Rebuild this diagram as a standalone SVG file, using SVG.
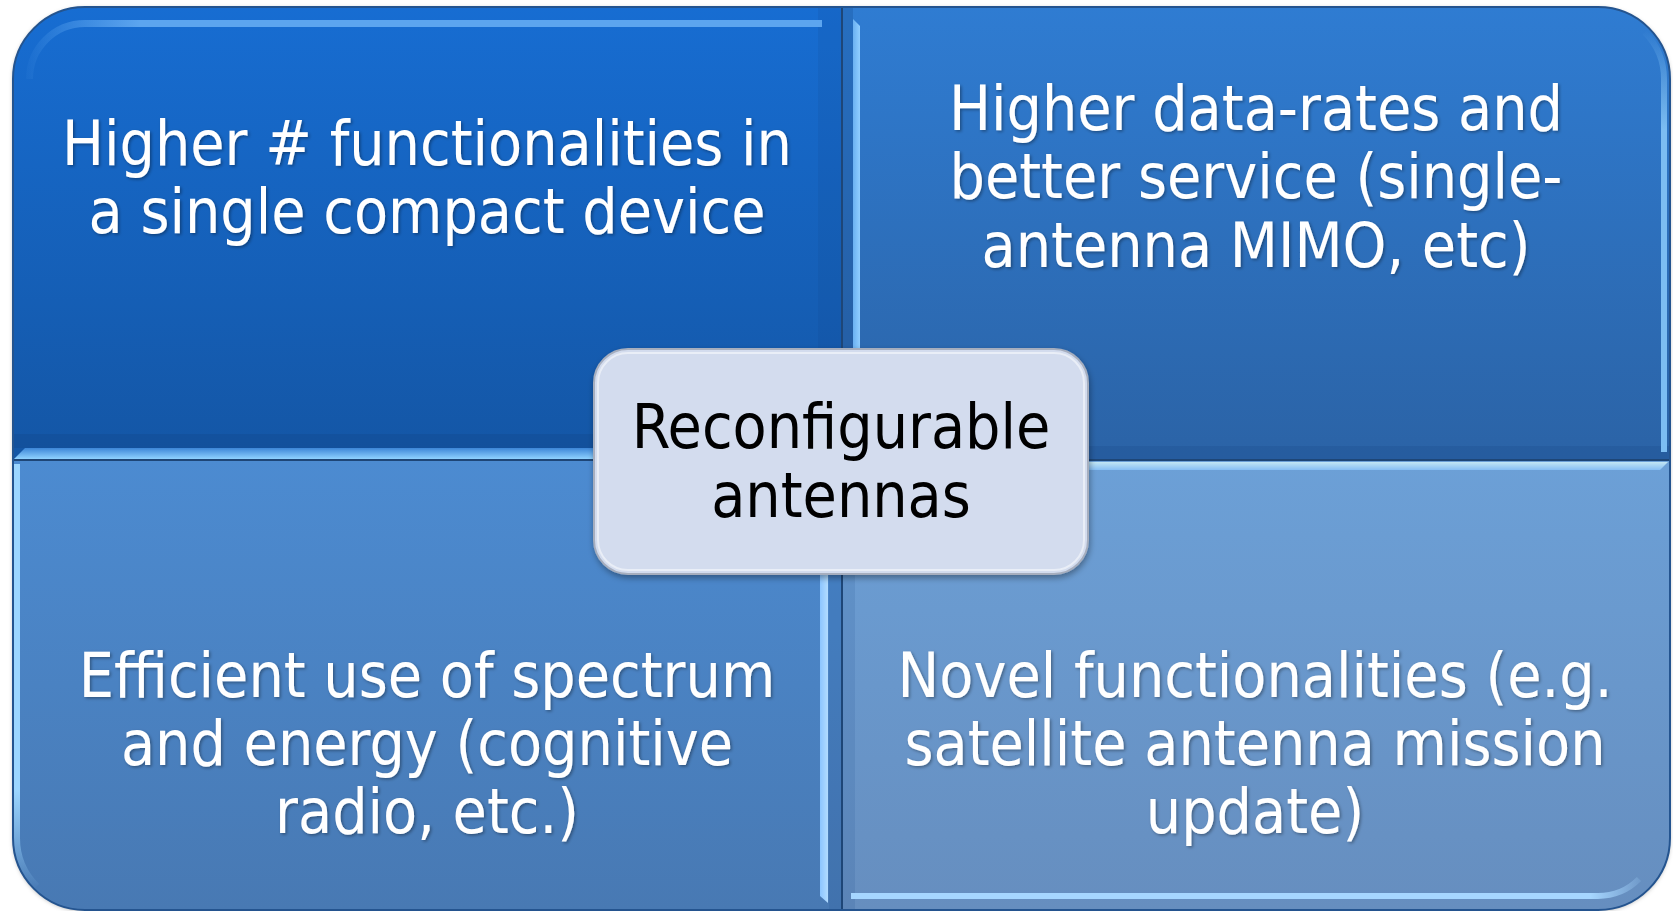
<svg xmlns="http://www.w3.org/2000/svg" width="1673" height="911" viewBox="0 0 1673 911">
  <defs>
    <style>
      .lbl { font-family: "DejaVu Sans Condensed", "DejaVu Sans", sans-serif; font-stretch: condensed; font-size: 62px; text-anchor: middle; }
      .white { fill: #ffffff; filter: url(#txtShadow); }
      .dark { fill: #000000; }
      .divider { stroke: #1E4677; stroke-width: 2; fill: none; }
    </style>
    <!-- quadrant fills -->
    <linearGradient id="gTL" x1="0" y1="0" x2="0" y2="1">
      <stop offset="0" stop-color="#176DD2"/>
      <stop offset="1" stop-color="#1456A5"/>
    </linearGradient>
    <linearGradient id="gTR" x1="0" y1="0" x2="0" y2="1">
      <stop offset="0" stop-color="#2F7CD2"/>
      <stop offset="1" stop-color="#2B63A6"/>
    </linearGradient>
    <linearGradient id="gBL" x1="0" y1="0" x2="0" y2="1">
      <stop offset="0" stop-color="#4C8BD1"/>
      <stop offset="1" stop-color="#4879B3"/>
    </linearGradient>
    <linearGradient id="gBR" x1="0" y1="0" x2="0" y2="1">
      <stop offset="0" stop-color="#6CA0D7"/>
      <stop offset="1" stop-color="#668EBF"/>
    </linearGradient>
    <!-- bevel highlight strips -->
    <linearGradient id="hTLtop" gradientUnits="userSpaceOnUse" x1="20" y1="0" x2="140" y2="0">
      <stop offset="0" stop-color="#5CA5EF" stop-opacity="0"/>
      <stop offset="1" stop-color="#5CA5EF"/>
    </linearGradient>
    <linearGradient id="hTLbot" x1="0" y1="0" x2="0" y2="1">
      <stop offset="0" stop-color="#3D86D8"/>
      <stop offset="1" stop-color="#8FD2FF"/>
    </linearGradient>
    <linearGradient id="hTRleft" x1="0" y1="0" x2="1" y2="0">
      <stop offset="0" stop-color="#6AB1F2"/>
      <stop offset="1" stop-color="#90CEFF"/>
    </linearGradient>
    <linearGradient id="hTRright" gradientUnits="userSpaceOnUse" x1="0" y1="30" x2="0" y2="130">
      <stop offset="0" stop-color="#7CBDF2" stop-opacity="0"/>
      <stop offset="1" stop-color="#7CBDF2"/>
    </linearGradient>
    <linearGradient id="hBLleft" gradientUnits="userSpaceOnUse" x1="0" y1="790" x2="0" y2="890">
      <stop offset="0" stop-color="#9CD6FF"/>
      <stop offset="1" stop-color="#9CD6FF" stop-opacity="0"/>
    </linearGradient>
    <linearGradient id="hBLright" x1="0" y1="0" x2="1" y2="0">
      <stop offset="0" stop-color="#8CC5FF"/>
      <stop offset="1" stop-color="#B2DCFF"/>
    </linearGradient>
    <linearGradient id="hBRtop" x1="0" y1="0" x2="0" y2="1">
      <stop offset="0" stop-color="#C2E6F4"/>
      <stop offset="1" stop-color="#86BEF4"/>
    </linearGradient>
    <linearGradient id="hBRbot" gradientUnits="userSpaceOnUse" x1="1590" y1="0" x2="1650" y2="0">
      <stop offset="0" stop-color="#A6D6FF"/>
      <stop offset="1" stop-color="#A6D6FF" stop-opacity="0"/>
    </linearGradient>
    <clipPath id="outerClip">
      <rect x="13" y="7" width="1657" height="903" rx="72" ry="72"/>
    </clipPath>
    <filter id="txtShadow" x="-5%" y="-20%" width="110%" height="140%">
      <feDropShadow dx="1.5" dy="1.5" stdDeviation="1.5" flood-color="#000000" flood-opacity="0.35"/>
    </filter>
    <filter id="boxShadow" x="-10%" y="-10%" width="120%" height="125%">
      <feDropShadow dx="1" dy="3" stdDeviation="3" flood-color="#000000" flood-opacity="0.35"/>
    </filter>
    <filter id="outerShadow" x="-2%" y="-2%" width="104%" height="104%">
      <feDropShadow dx="0" dy="1" stdDeviation="2" flood-color="#000000" flood-opacity="0.3"/>
    </filter>
  </defs>

  <!-- outer silhouette with a soft shadow -->
  <rect x="13" y="7" width="1657" height="903" rx="72" ry="72" fill="#2B5E9E" filter="url(#outerShadow)"/>

  <g clip-path="url(#outerClip)">
    <!-- top-left quadrant -->
    <g id="q-tl">
      <path d="M13,79 A72,72 0 0 1 85,7 L842,7 L842,460 L13,460 Z" fill="url(#gTL)"/>
      <rect x="13" y="434" width="829" height="14" fill="#0E3F80" opacity="0.25"/>
      <rect x="818" y="7" width="24" height="441" fill="#0E3F80" opacity="0.12"/>
      <path d="M29.5,79 A55.5,55.5 0 0 1 85,23.5 L822,23.5" fill="none" stroke="url(#hTLtop)" stroke-width="7"/>
      <polygon points="25,448 842,448 842,459 14,459" fill="url(#hTLbot)"/>
      <text class="lbl white" x="427" y="165">Higher # functionalities in</text>
      <text class="lbl white" x="427" y="233">a single compact device</text>
    </g>

    <!-- top-right quadrant -->
    <g id="q-tr">
      <path d="M842,7 L1598,7 A72,72 0 0 1 1670,79 L1670,460 L842,460 Z" fill="url(#gTR)"/>
      <rect x="842" y="7" width="11" height="453" fill="#0E3F80" opacity="0.22"/>
      <rect x="842" y="446" width="828" height="14" fill="#0E3F80" opacity="0.18"/>
      <polygon points="853,19 860,26 860,446 853,453" fill="url(#hTRleft)"/>
      <path d="M1644.7,32.3 A66,66 0 0 1 1664,79 L1664,452" fill="none" stroke="url(#hTRright)" stroke-width="6"/>
      <text class="lbl white" x="1256" y="130">Higher data-rates and</text>
      <text class="lbl white" x="1256" y="198">better service (single-</text>
      <text class="lbl white" x="1256" y="267">antenna MIMO, etc)</text>
    </g>

    <!-- bottom-left quadrant -->
    <g id="q-bl">
      <path d="M13,460 L842,460 L842,910 L85,910 A72,72 0 0 1 13,838 Z" fill="url(#gBL)"/>
      <rect x="829" y="460" width="13" height="450" fill="#0E3F80" opacity="0.12"/>
      <path d="M16.5,464 L16.5,838 A68.5,68.5 0 0 0 36.6,886.4" fill="none" stroke="url(#hBLleft)" stroke-width="7"/>
      <polygon points="820,470 828,463 828,903 820,896" fill="url(#hBLright)"/>
      <text class="lbl white" x="427" y="697">Efficient use of spectrum</text>
      <text class="lbl white" x="427" y="765">and energy (cognitive</text>
      <text class="lbl white" x="427" y="833">radio, etc.)</text>
    </g>

    <!-- bottom-right quadrant -->
    <g id="q-br">
      <path d="M842,460 L1670,460 L1670,838 A72,72 0 0 1 1598,910 L842,910 Z" fill="url(#gBR)"/>
      <rect x="842" y="460" width="13" height="450" fill="#0E3F80" opacity="0.12"/>
      <polygon points="842,462 1668,462 1660,470 842,470" fill="url(#hBRtop)"/>
      <path d="M851,896 L1598,896 A58,58 0 0 0 1639,879" fill="none" stroke="url(#hBRbot)" stroke-width="6"/>
      <text class="lbl white" x="1255" y="697">Novel functionalities (e.g.</text>
      <text class="lbl white" x="1255" y="765">satellite antenna mission</text>
      <text class="lbl white" x="1255" y="833">update)</text>
    </g>

    <!-- seams between the quadrants -->
    <g id="dividers">
      <line class="divider" x1="842" y1="7" x2="842" y2="910"/>
      <line class="divider" x1="13" y1="460" x2="1670" y2="460"/>
    </g>
  </g>

  <!-- outline of the whole matrix -->
  <rect x="13" y="7" width="1657" height="903" rx="72" ry="72" fill="none" stroke="#24548F" stroke-width="2"/>

  <!-- central label -->
  <g id="center">
    <rect x="594" y="349" width="494" height="225" rx="34" ry="34" fill="#D3DCEE" stroke="#A6AEBE" stroke-width="2" filter="url(#boxShadow)"/>
    <rect x="598" y="353" width="486" height="217" rx="30" ry="30" fill="none" stroke="#FFFFFF" stroke-opacity="0.5" stroke-width="2"/>
    <text class="lbl dark" x="841" y="448">Reconfigurable</text>
    <text class="lbl dark" x="841" y="517">antennas</text>
  </g>
</svg>
